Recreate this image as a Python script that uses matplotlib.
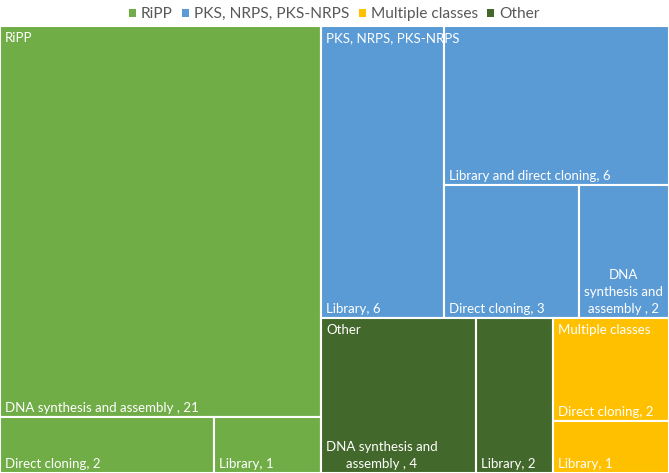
import matplotlib
matplotlib.use("Agg")
import matplotlib.pyplot as plt
from matplotlib.patches import Rectangle, Patch

# data
groups = ["RiPP", "PKS, NRPS, PKS-NRPS", "Other", "Multiple classes"]
legend_order = ["RiPP", "PKS, NRPS, PKS-NRPS", "Multiple classes", "Other"]
colors = {
    "RiPP": "#70AD47",
    "PKS, NRPS, PKS-NRPS": "#5B9BD5",
    "Multiple classes": "#FFC000",
    "Other": "#43682B",
}

ripp_names = ["DNA synthesis and assembly , 21", "Direct cloning, 2", "Library, 1"]
ripp_values = [21, 2, 1]
pks_names = ["Library, 6", "Library and direct cloning, 6", "Direct cloning, 3",
             "DNA synthesis and assembly , 2"]
pks_values = [6, 6, 3, 2]
other_names = ["DNA synthesis and assembly , 4", "Library, 2"]
other_values = [4, 2]
multi_names = ["Direct cloning, 2", "Library, 1"]
multi_values = [2, 1]

children = {
    "RiPP": (ripp_names, ripp_values),
    "PKS, NRPS, PKS-NRPS": (pks_names, pks_values),
    "Other": (other_names, other_values),
    "Multiple classes": (multi_names, multi_values),
}

FONT = "Lato"
FS = 9.5


def slice_layout(values, x, y, w, h):
    # peel off one item at a time along the longer side
    rects = []
    rem = float(sum(values))
    for v in values:
        if w >= h:
            dw = w * v / rem
            rects.append((x, y, dw, h))
            x += dw
            w -= dw
        else:
            dh = h * v / rem
            rects.append((x, y, w, dh))
            y += dh
            h -= dh
        rem -= v
    return rects


W, H = 669, 447
fig = plt.figure(figsize=(6.69, 4.73), dpi=100)
ax = fig.add_axes([0, 0, 1, H / 473])
ax.set_xlim(0, W)
ax.set_ylim(H, 0)
ax.axis("off")

renderer = fig.canvas.get_renderer()


def text_width(s):
    t = ax.text(0, 0, s, fontsize=FS, family=FONT)
    w = t.get_window_extent(renderer).width
    t.remove()
    return w


def wrap_px(txt, maxw):
    # greedy word wrap measured in pixels
    lines = []
    cur = ""
    for word in txt.split(" "):
        cand = word if not cur else cur + " " + word
        if cur and text_width(cand) > maxw:
            lines.append(cur)
            cur = word
        else:
            cur = cand
    lines.append(cur)
    return "\n".join(lines)


totals = [sum(children[g][1]) for g in groups]
outer = slice_layout(totals, 0, 0, W, H)
pad = 5
for g, (gx, gy, gw, gh) in zip(groups, outer):
    names, vals = children[g]
    for name, (cx, cy, cw, ch) in zip(names, slice_layout(vals, gx, gy, gw, gh)):
        ax.add_patch(Rectangle((cx, cy), cw, ch, facecolor=colors[g],
                               edgecolor="white", lw=1.5))
        ax.text(cx + pad, cy + ch - 3, wrap_px(name, cw - 2 * pad), color="white",
                fontsize=FS, family=FONT, ha="left", va="bottom",
                multialignment="center", linespacing=1.5)
    ax.text(gx + pad, gy + 6, g, color="white", fontsize=FS, family=FONT,
            ha="left", va="top")

handles = [Patch(facecolor=colors[g], edgecolor="none") for g in legend_order]
fig.legend(handles, legend_order, loc="upper center", bbox_to_anchor=(0.5, 1.014),
           ncol=4, frameon=False, handlelength=0.42, handleheight=0.42,
           handletextpad=0.35, columnspacing=0.6,
           prop={"family": FONT, "size": 11.2}, labelcolor="#595959")

fig.savefig("out.png", dpi=100)
